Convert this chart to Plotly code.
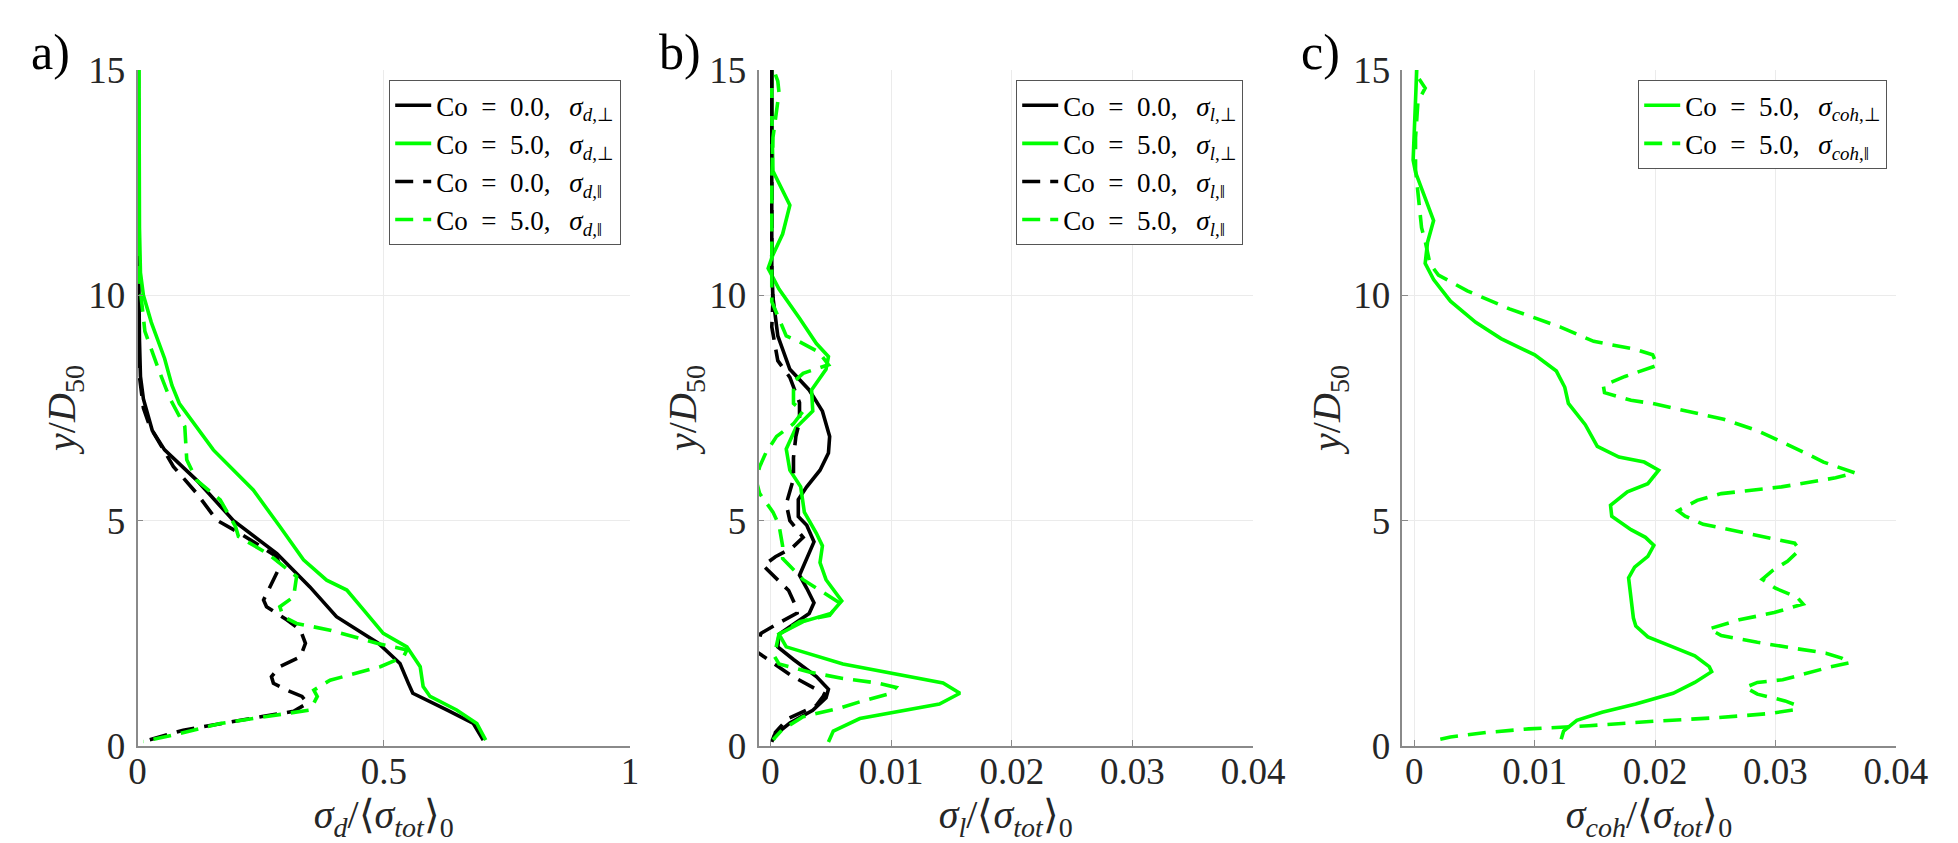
import plotly.graph_objects as go

# ---------------- Panel a: sigma_d ----------------
a_co0_perp_y = [15, 13, 11, 10, 9, 8.2, 7.7, 7.0, 6.57, 5.9, 5.0, 4.27, 3.53, 2.87, 2.28, 1.83, 1.39, 1.17, 0.8, 0.5, 0.13]
a_co0_perp_x = [0.002, 0.002, 0.002, 0.003, 0.004, 0.006, 0.012, 0.03, 0.055, 0.12, 0.195, 0.283, 0.35, 0.404, 0.489, 0.533, 0.55, 0.559, 0.628, 0.682, 0.702]

a_co5_perp_y = [15, 13, 11.5, 10.5, 10, 9.4, 8.6, 8.0, 7.6, 6.57, 5.68, 4.87, 4.13, 3.68, 3.46, 3.02, 2.5, 2.2, 1.76, 1.32, 1.10, 0.8, 0.5, 0.13]
a_co5_perp_x = [0.003, 0.003, 0.004, 0.006, 0.012, 0.028, 0.055, 0.07, 0.085, 0.154, 0.235, 0.289, 0.337, 0.384, 0.425, 0.459, 0.499, 0.547, 0.574, 0.580, 0.594, 0.648, 0.689, 0.707]

a_co0_par_y = [15, 12, 10.5, 9, 8.2, 7.5, 7.09, 6.2, 5.61, 5.01, 4.72, 4.2, 3.98, 3.53, 3.24, 3.09, 2.8, 2.57, 2.28, 1.98, 1.76, 1.54, 1.39, 1.24, 1.10, 0.95, 0.77, 0.66, 0.5, 0.35, 0.1]
a_co0_par_x = [0.001, 0.001, 0.001, 0.002, 0.004, 0.012, 0.025, 0.073, 0.12, 0.161, 0.208, 0.283, 0.289, 0.269, 0.256, 0.262, 0.303, 0.331, 0.341, 0.331, 0.289, 0.272, 0.276, 0.303, 0.334, 0.345, 0.317, 0.256, 0.168, 0.093, 0.012]

a_co5_par_y = [15, 12, 10.5, 9.9, 9.2, 8.32, 7.73, 7.09, 6.35, 5.9, 5.46, 4.87, 4.65, 4.27, 3.76, 3.31, 3.09, 2.87, 2.72, 2.57, 2.28, 2.13, 1.98, 1.76, 1.46, 1.24, 1.10, 0.80, 0.73, 0.5, 0.28, 0.1]
a_co5_par_x = [0.002, 0.002, 0.003, 0.008, 0.015, 0.044, 0.065, 0.096, 0.1, 0.12, 0.168, 0.199, 0.205, 0.264, 0.323, 0.317, 0.289, 0.296, 0.323, 0.391, 0.486, 0.547, 0.54, 0.493, 0.391, 0.358, 0.365, 0.351, 0.311, 0.168, 0.087, 0.012]

# ---------------- Panel b: sigma_l ----------------
b_co0_perp_y = [15, 13, 11, 10.6, 9.95, 9.1, 8.36, 7.9, 7.43, 6.87, 6.5, 6.12, 5.75, 5.47, 5.09, 4.9, 4.53, 4.16, 3.79, 3.5, 3.18, 2.94, 2.66, 2.48, 2.2, 1.92, 1.54, 1.26, 1.07, 0.79, 0.51, 0.23, 0.09]
b_co0_perp_x = [0.0001, 0.0001, 0.0001, 0.0001, 0.0002, 0.0006, 0.0016, 0.0032, 0.0043, 0.0049, 0.0048, 0.0041, 0.003, 0.0023, 0.0023, 0.003, 0.0036, 0.003, 0.0024, 0.003, 0.0036, 0.0032, 0.0016, 0.0007, 0.0006, 0.0019, 0.0038, 0.0048, 0.0046, 0.0035, 0.0016, 0.0003, 0.0001]

b_co5_perp_y = [15, 14, 12.76, 12.0, 11.36, 10.9, 10.6, 10.14, 9.49, 8.93, 8.64, 8.36, 7.9, 7.43, 7.06, 6.59, 6.12, 5.75, 5.19, 4.72, 4.44, 4.07, 3.69, 3.22, 2.94, 2.76, 2.48, 2.2, 1.82, 1.4, 1.17, 0.93, 0.61, 0.33, 0.09]
b_co5_perp_x = [0.0001, 0.0001, 0.0002, 0.0016, 0.001, 0.0002, -0.0002, 0.0007, 0.0024, 0.0038, 0.0048, 0.0046, 0.0034, 0.0035, 0.0021, 0.0013, 0.0016, 0.0025, 0.0028, 0.0038, 0.0043, 0.0041, 0.0046, 0.0059, 0.005, 0.0027, 0.0007, 0.0013, 0.006, 0.0143, 0.0157, 0.014, 0.0074, 0.0052, 0.0048]

b_co0_par_y = [15, 12, 10.5, 9.86, 9.3, 8.55, 8.18, 7.62, 7.2, 6.87, 6.4, 5.93, 5.37, 5.0, 4.63, 4.4, 4.2, 4.0, 3.7, 3.45, 3.1, 2.95, 2.7, 2.5, 2.1, 1.75, 1.55, 1.3, 1.15, 0.9, 0.6, 0.3, 0.1]
b_co0_par_x = [0.0001, 0.0001, 0.0001, 0.0002, 0.0001, 0.0006, 0.0016, 0.0024, 0.0024, 0.0021, 0.0019, 0.0019, 0.0013, 0.0016, 0.0027, 0.0018, 0.0004, -0.0006, 0.0005, 0.0015, 0.0021, 0.0022, 0.0005, -0.0008, -0.0012, 0.0007, 0.0018, 0.0035, 0.0045, 0.0038, 0.0014, 0.0004, 0.0002]

b_co5_par_y = [14.9, 14.75, 14.5, 13.5, 12.5, 11.5, 10.6, 9.86, 9.1, 8.97, 8.74, 8.46, 8.27, 8.08, 7.6, 7.43, 7.15, 6.87, 6.5, 6.2, 5.9, 5.6, 5.19, 4.9, 4.44, 4.16, 3.69, 3.18, 2.9, 2.76, 2.48, 2.0, 1.82, 1.64, 1.5, 1.4, 1.3, 1.17, 0.98, 0.84, 0.65, 0.37, 0.14]
b_co5_par_x = [0.0004, 0.0006, 0.0007, 0.0002, 0.0001, 0.0001, 0.0001, 0.0001, 0.0013, 0.0024, 0.004, 0.0048, 0.0027, 0.0019, 0.0019, 0.0027, 0.0019, 0.0005, -0.0004, -0.0009, -0.0012, -0.0009, 0.0002, 0.0007, 0.001, 0.001, 0.0027, 0.0057, 0.0049, 0.0024, 0.0007, 0.0003, 0.0007, 0.0032, 0.006, 0.0088, 0.0104, 0.01, 0.0074, 0.0057, 0.0027, 0.001, 0.0002]

# ---------------- Panel c: sigma_coh ----------------
c_co5_perp_y = [15, 14.2, 13.0, 12.73, 12.14, 11.66, 11.18, 10.71, 10.35, 9.87, 9.4, 9.04, 8.68, 8.32, 7.96, 7.6, 7.13, 6.65, 6.41, 6.3, 6.12, 5.82, 5.64, 5.34, 5.1, 4.8, 4.63, 4.45, 4.21, 3.97, 3.73, 3.31, 2.84, 2.66, 2.42, 2.24, 2.0, 1.76, 1.65, 1.41, 1.17, 0.93, 0.75, 0.57, 0.33, 0.15]
c_co5_perp_x = [0.0002, 0.0001, -0.0001, 0.0001, 0.0009, 0.0016, 0.0011, 0.0009, 0.0016, 0.003, 0.0051, 0.0072, 0.01, 0.0118, 0.0125, 0.0128, 0.0142, 0.0152, 0.017, 0.0191, 0.0203, 0.0194, 0.0177, 0.0163, 0.0164, 0.018, 0.0192, 0.0199, 0.0194, 0.0183, 0.0178, 0.018, 0.0182, 0.0184, 0.0194, 0.0211, 0.0233, 0.0245, 0.0247, 0.0233, 0.0215, 0.0184, 0.0156, 0.0135, 0.0124, 0.0122]

c_co5_par_y = [14.8, 14.6, 14.3, 13.5, 12.8, 12.2, 11.5, 11.2, 10.7, 10.45, 10.1, 9.7, 9.3, 8.98, 8.8, 8.68, 8.45, 8.2, 8.0, 7.84, 7.67, 7.6, 7.25, 7.0, 6.7, 6.5, 6.3, 6.12, 6.06, 5.95, 5.75, 5.6, 5.45, 5.22, 5.1, 4.92, 4.75, 4.6, 4.5, 4.35, 4.1, 3.9, 3.7, 3.5, 3.3, 3.15, 2.96, 2.8, 2.6, 2.45, 2.3, 2.15, 2.06, 1.95, 1.85, 1.75, 1.6, 1.47, 1.41, 1.3, 1.15, 1.0, 0.9, 0.8, 0.72, 0.63, 0.55, 0.45, 0.38, 0.3, 0.2, 0.12]
c_co5_par_x = [0.0004, 0.0009, 0.0003, 0.0001, 0.0001, 0.0003, 0.0006, 0.0009, 0.0013, 0.002, 0.0044, 0.0079, 0.0121, 0.0149, 0.0184, 0.0198, 0.0202, 0.0175, 0.0157, 0.0158, 0.018, 0.0198, 0.0257, 0.0285, 0.031, 0.0325, 0.034, 0.0358, 0.0366, 0.035, 0.0305, 0.0255, 0.0235, 0.0219, 0.0225, 0.024, 0.0271, 0.0295, 0.0316, 0.032, 0.031, 0.0298, 0.0289, 0.03, 0.0318, 0.0323, 0.0299, 0.027, 0.0245, 0.0255, 0.0285, 0.032, 0.0342, 0.0355, 0.0362, 0.0345, 0.0323, 0.0306, 0.0285, 0.0275, 0.0285, 0.0308, 0.0318, 0.0315, 0.0295, 0.0253, 0.02, 0.0145, 0.0095, 0.006, 0.003, 0.0017]

# ---------------- Labels ----------------
panel_labels = ["a)", "b)", "c)"]
y_ticks = [0, 5, 10, 15]
a_x_ticks = [0, 0.5, 1]
a_x_ticktext = ["0", "0.5", "1"]
bc_x_ticks = [0, 0.01, 0.02, 0.03, 0.04]
bc_x_ticktext = ["0", "0.01", "0.02", "0.03", "0.04"]

PERP = "⊥"
PAR = "‖"
EN = "\u2002"
TH = "\u2009"

def sym(sub, kind):
    return "Co" + EN + "=" + EN + "%s," + EN + TH + "<i>σ</i><sub><i>" + sub + "</i>," + kind + "</sub>"

GREEN = "#00ff00"
BLACK = "#000000"
LW = 3.6
DASH = "18px,10px"
FONT = "Liberation Serif, 'Times New Roman', Times, serif"
TXT = "#262626"

fig = go.Figure()

def add(x, y, color, dash, name, xa, ya, legend):
    fig.add_trace(go.Scatter(
        x=x, y=y, mode="lines", name=name,
        line=dict(color=color, width=LW, dash=dash),
        xaxis=xa, yaxis=ya, legend=legend, showlegend=True))

add(a_co0_perp_x, a_co0_perp_y, BLACK, "solid", sym("d", PERP) % "0.0", "x", "y", "legend")
add(a_co5_perp_x, a_co5_perp_y, GREEN, "solid", sym("d", PERP) % "5.0", "x", "y", "legend")
add(a_co0_par_x, a_co0_par_y, BLACK, DASH, sym("d", PAR) % "0.0", "x", "y", "legend")
add(a_co5_par_x, a_co5_par_y, GREEN, DASH, sym("d", PAR) % "5.0", "x", "y", "legend")

add(b_co0_perp_x, b_co0_perp_y, BLACK, "solid", sym("l", PERP) % "0.0", "x2", "y2", "legend2")
add(b_co5_perp_x, b_co5_perp_y, GREEN, "solid", sym("l", PERP) % "5.0", "x2", "y2", "legend2")
add(b_co0_par_x, b_co0_par_y, BLACK, DASH, sym("l", PAR) % "0.0", "x2", "y2", "legend2")
add(b_co5_par_x, b_co5_par_y, GREEN, DASH, sym("l", PAR) % "5.0", "x2", "y2", "legend2")

add(c_co5_perp_x, c_co5_perp_y, GREEN, "solid", sym("coh", PERP) % "5.0", "x3", "y3", "legend3")
add(c_co5_par_x, c_co5_par_y, GREEN, DASH, sym("coh", PAR) % "5.0", "x3", "y3", "legend3")

W, H = 1958, 843
ydom = [(H - 746) / H, (H - 70) / H]
xdoms = [[137.5 / W, 630 / W], [758.5 / W, 1253 / W], [1402.3 / W, 1895.8 / W]]

axis_common = dict(
    showline=True, linecolor="#8a8a8a", linewidth=1.5, mirror=False,
    ticks="inside", ticklen=6, tickwidth=1.2, tickcolor="#8a8a8a",
    showgrid=True, gridcolor="#ebebeb", gridwidth=1, zeroline=False,
    tickfont=dict(family=FONT, size=37, color=TXT),
)

xtitles = [
    "<i>σ</i><sub><i>d</i></sub>/⟨<i>σ</i><sub><i>tot</i></sub>⟩<sub>0</sub>",
    "<i>σ</i><sub><i>l</i></sub>/⟨<i>σ</i><sub><i>tot</i></sub>⟩<sub>0</sub>",
    "<i>σ</i><sub><i>coh</i></sub>/⟨<i>σ</i><sub><i>tot</i></sub>⟩<sub>0</sub>",
]
ytitle = "<i>y</i>/<i>D</i><sub>50</sub>"

layout = dict(
    width=W, height=H, margin=dict(l=0, r=0, t=0, b=0, autoexpand=False),
    paper_bgcolor="white", plot_bgcolor="white",
    font=dict(family=FONT, size=32, color=TXT),
)
for i in range(3):
    sfx = "" if i == 0 else str(i + 1)
    if i == 0:
        xr, tv, tt = [0, 1], a_x_ticks, a_x_ticktext
    else:
        xr, tv, tt = [-0.001, 0.04], bc_x_ticks, bc_x_ticktext
    layout["xaxis" + sfx] = dict(axis_common, domain=xdoms[i], range=xr, tickvals=tv, ticktext=tt,
                                 anchor="y" + sfx, ticklabelstandoff=-8, automargin=True,
                                 title=dict(text=xtitles[i], font=dict(family=FONT, size=40, color=TXT), standoff=8))
    layout["yaxis" + sfx] = dict(axis_common, domain=ydom, range=[0, 15], tickvals=y_ticks,
                                 ticktext=[str(v) for v in y_ticks], anchor="x" + sfx, ticklabelstandoff=3,
                                 automargin=False,
                                 title=dict(text=ytitle, font=dict(family=FONT, size=40, color=TXT), standoff=0))

legend_common = dict(
    bgcolor="white", bordercolor="#555555", borderwidth=1.2,
    font=dict(family=FONT, size=27, color="#000000"),
    xanchor="right", yanchor="top", y=1 - 80 / H, itemwidth=36, tracegroupgap=0,
)
layout["legend"] = dict(legend_common, x=621 / W)
layout["legend2"] = dict(legend_common, x=1243 / W)
layout["legend3"] = dict(legend_common, x=1887 / W)

fig.update_layout(**layout)

label_x = [50, 680, 1320]
for lab, lx in zip(panel_labels, label_x):
    fig.add_annotation(text=lab, x=lx / W, y=1 - 52 / H, xref="paper", yref="paper",
                       showarrow=False, xanchor="center", yanchor="middle",
                       font=dict(family=FONT, size=50, color="#000000"))

fig.write_html("out.html")
